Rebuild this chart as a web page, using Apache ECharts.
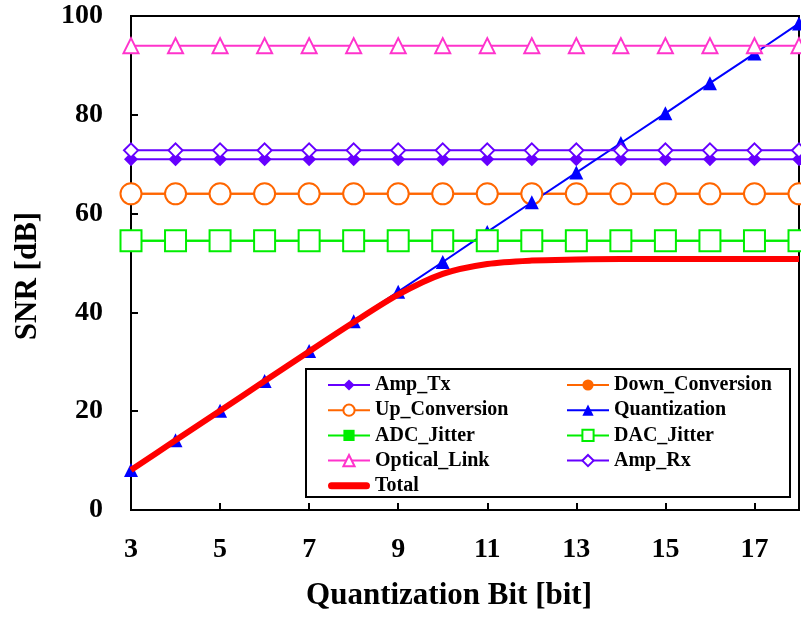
<!DOCTYPE html>
<html><head><meta charset="utf-8">
<script src="https://cdn.jsdelivr.net/npm/echarts@6/dist/echarts.min.js"></script>
<style>html,body{margin:0;padding:0;background:#fff}#c{width:801px;height:619px}</style>
</head><body><div id="c"></div>
<script>
const bits = ['3','4','5','6','7','8','9','10','11','12','13','14','15','16','17','18'];
const ampTx = [71,71,71,71,71,71,71,71,71,71,71,71,71,71,71,71];
const downConv = [64,64,64,64,64,64,64,64,64,64,64,64,64,64,64,64];
const upConv = [64,64,64,64,64,64,64,64,64,64,64,64,64,64,64,64];
const quant = [8.1,14.1,20.1,26.1,32.2,38.2,44.2,50.2,56.3,62.3,68.3,74.3,80.3,86.4,92.4,98.5];
const adcJitter = [54.5,54.5,54.5,54.5,54.5,54.5,54.5,54.5,54.5,54.5,54.5,54.5,54.5,54.5,54.5,54.5];
const dacJitter = [54.5,54.5,54.5,54.5,54.5,54.5,54.5,54.5,54.5,54.5,54.5,54.5,54.5,54.5,54.5,54.5];
const optical = [94,94,94,94,94,94,94,94,94,94,94,94,94,94,94,94];
const ampRx = [72.8,72.8,72.8,72.8,72.8,72.8,72.8,72.8,72.8,72.8,72.8,72.8,72.8,72.8,72.8,72.8];
const total = [8.1,14.1,20.1,26.1,32.1,38.0,43.6,47.8,49.8,50.5,50.7,50.8,50.8,50.8,50.8,50.8];
const yTicks = {min:0, max:100, interval:20};

const FONT = '"Liberation Serif", "Times New Roman", serif';
function ls(name, data, color, symbol, size, extra) {
  return Object.assign({
    name, type:'line', data, symbol, symbolSize:size,
    lineStyle:{color, width:2}, itemStyle:{color, borderWidth:2},
    animation:false
  }, extra||{});
}
const legendText = {fontFamily:FONT, fontWeight:'bold', fontSize:20, color:'#000', lineHeight:20};
const chart = echarts.init(document.getElementById('c'), null, {renderer:'canvas'});
chart.setOption({
  backgroundColor:'#fff',
  animation:false,
  grid:{left:131, right:2, top:16, bottom:109, show:true, borderColor:'#000', borderWidth:2, backgroundColor:'transparent'},
  xAxis:{type:'category', data:bits, boundaryGap:false,
    name:'Quantization Bit [bit]', nameLocation:'middle', nameGap:70,
    nameTextStyle:{fontFamily:FONT, fontWeight:'bold', fontSize:31, color:'#000', padding:[0,32,0,0]},
    axisLine:{lineStyle:{color:'#000', width:2}},
    axisTick:{inside:true, length:7, interval:1, lineStyle:{color:'#000', width:2}},
    axisLabel:{interval:1, margin:26, fontFamily:FONT, fontWeight:'bold', fontSize:28, color:'#000'},
    splitLine:{show:false}},
  yAxis:{type:'value', min:yTicks.min, max:yTicks.max, interval:yTicks.interval,
    name:'SNR [dB]', nameLocation:'middle', nameGap:88,
    nameTextStyle:{fontFamily:FONT, fontWeight:'bold', fontSize:31, color:'#000', padding:[0,26,0,0]},
    axisLine:{show:true, lineStyle:{color:'#000', width:2}},
    axisTick:{show:true, inside:true, length:7, lineStyle:{color:'#000', width:2}},
    axisLabel:{margin:28, fontFamily:FONT, fontWeight:'bold', fontSize:28, color:'#000'},
    splitLine:{show:false}},
  legend:[
    {orient:'vertical', left:322, top:370, itemWidth:42, itemHeight:14, itemGap:5.2,
     textStyle:legendText,
     data:['Amp_Tx','Up_Conversion','ADC_Jitter','Optical_Link',
       {name:'Total', icon:'path://M4,0 L44,0 A4,4 0 0 1 44,8 L4,8 A4,4 0 0 1 4,0 Z', itemStyle:{color:'#ff0000'}}], z:10},
    {orient:'vertical', left:561, top:370, itemWidth:42, itemHeight:14, itemGap:5.2,
     textStyle:legendText,
     data:['Down_Conversion','Quantization','DAC_Jitter','Amp_Rx'], z:10}
  ],
  graphic:[{type:'rect', shape:{x:306, y:369, width:484, height:128}, style:{fill:'#fff', stroke:'#000', lineWidth:2}, z:5}],
  series:[
    ls('Amp_Tx', ampTx, '#6600ff', 'diamond', 14),
    ls('Down_Conversion', downConv, '#ff6600', 'circle', 10),
    ls('Up_Conversion', upConv, '#ff6600', 'emptyCircle', 21),
    ls('Quantization', quant, '#0000ff', 'triangle', 14),
    ls('ADC_Jitter', adcJitter, '#00ee00', 'rect', 10),
    ls('DAC_Jitter', dacJitter, '#00ee00', 'emptyRect', 21),
    ls('Optical_Link', optical, '#ff33cc', 'emptyTriangle', 15),
    ls('Amp_Rx', ampRx, '#6600ff', 'emptyDiamond', 14),
    {name:'Total', type:'line', data:total, symbol:'none', smooth:0.3,
     lineStyle:{color:'#ff0000', width:6}, itemStyle:{color:'#ff0000'}, z:5, animation:false}
  ]
});
</script></body></html>
